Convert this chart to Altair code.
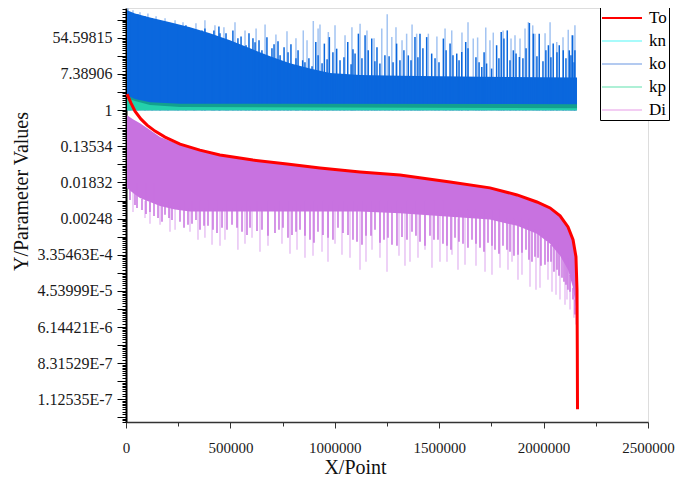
import math
import numpy as np
import pandas as pd
import altair as alt

FONT = "Liberation Serif"

# ---------------- data (x in points, y given as natural-log of the value) ----------------
series_names = ["To", "kn", "ko", "kp", "Di"]
legend_colors = ["#ff0000", "#a8fbfb", "#b3caf0", "#aef0d6", "#f3cdf3"]

y_tick_labels = ["54.59815", "7.38906", "1", "0.13534", "0.01832", "0.00248",
                 "3.35463E-4", "4.53999E-5", "6.14421E-6", "8.31529E-7", "1.12535E-7"]
x_tick_values = [0, 250000, 500000, 750000, 1000000, 1250000, 1500000,
                 1750000, 2000000, 2250000, 2500000]

# To (red curve)
to_x = [5000, 24000, 43000, 72000, 101000, 139000, 187000, 259000, 354000, 450000,
        608000, 771000, 929000, 1121000, 1312000, 1552000, 1743000, 1873000, 1968000,
        2031000, 2079000, 2117000, 2141000, 2155000, 2160000, 2161400, 2162400]
to_ln = [0.88, 0.39, -0.06, -0.50, -0.83, -1.16, -1.49, -1.88, -2.21, -2.48,
         -2.76, -2.98, -3.20, -3.42, -3.59, -3.97, -4.30, -4.69, -5.08,
         -5.41, -5.85, -6.46, -7.17, -8.11, -9.93, -13.24, -16.55]

# Di dense band
di_x = [5000, 33500, 67000, 115000, 163000, 235000, 306500, 369000, 450000, 608000,
        771000, 929000, 1121000, 1312000, 1552000, 1743000, 1873000, 1968000, 2031000,
        2079000, 2117000, 2141000, 2155000, 2160000]
di_top_ln = [-0.28, -0.50, -0.72, -1.10, -1.49, -1.82, -2.10, -2.26, -2.48, -2.76,
             -2.98, -3.20, -3.42, -3.59, -3.97, -4.30, -4.69, -5.08, -5.41,
             -5.85, -6.46, -7.17, -8.11, -9.93]
di_low_ln = [-4.30, -4.58, -4.86, -5.08, -5.30, -5.50, -5.60, -5.60, -5.60, -5.60,
             -5.60, -5.60, -5.60, -5.70, -5.90, -6.05, -6.40, -6.84, -7.39,
             -8.06, -8.83, -9.82, -10.92, -12.69]

# Di saturated spikes (bottom / top of each spike)
di_sp_x = [19200, 43100, 76600, 114900, 153300, 186800, 220300, 258600, 296900, 335200,
           373600, 416700, 459800, 507700, 555600, 593900, 651300, 713600, 751900, 795000,
           833300, 881200, 919500, 967500, 1015300, 1063200, 1106300, 1149400, 1192500, 1235600,
           1273900, 1321800, 1369700, 1408000, 1455900, 1494200, 1537300, 1575700, 1614000, 1657100,
           1695400, 1733700, 1767200, 1805500, 1839100, 1877400, 1915700, 1944400, 1973200, 2006700,
           2035400, 2064200, 2088100, 2107300, 2126500, 2140800, 2150400,
           52700, 95800, 134100, 172400, 205900, 277800, 316100, 354400, 392700, 435800,
           483700, 531600, 579500, 627400, 680000, 732700, 775800, 814200, 857200, 900300,
           943400, 991300, 1039200, 1087100, 1130200, 1173300, 1216400, 1254700, 1297800, 1345700,
           1388800, 1431900, 1475000, 1518100, 1556400, 1594700, 1637800, 1676200, 1714500, 1752800,
           1786300, 1824600, 1858100, 1896500, 1930000, 1958700, 1987400, 2021000, 2049700, 2073700,
           2097600, 2116700]
di_sp_low = [-4.97, -5.24, -5.52, -5.63, -5.96, -5.79, -6.07, -6.18, -6.34, -6.07,
             -6.40, -6.62, -6.51, -6.34, -6.73, -6.51, -6.62, -6.79, -6.51, -6.90,
             -6.62, -7.17, -6.73, -7.06, -6.51, -6.90, -7.28, -6.95, -6.62, -7.17,
             -7.45, -7.01, -6.73, -7.28, -6.95, -7.17, -7.50, -7.06, -7.39, -7.17,
             -7.61, -7.34, -7.72, -7.50, -7.83, -8.00, -7.72, -8.39, -8.17, -8.55,
             -8.39, -8.83, -9.27, -9.66, -10.04, -10.48, -11.31,
             -5.41, -5.74, -5.85, -6.18, -5.96, -6.51, -6.29, -6.62, -6.40, -6.79,
             -6.62, -6.51, -6.90, -6.68, -6.95, -6.62, -7.06, -6.73, -6.95, -7.34,
             -6.90, -7.17, -6.79, -7.17, -7.45, -6.95, -7.34, -7.06, -7.50, -7.17,
             -6.95, -7.50, -7.17, -7.39, -7.72, -7.28, -7.61, -7.39, -7.83, -7.50,
             -7.94, -7.72, -8.06, -7.89, -8.28, -8.11, -8.61, -8.39, -8.94, -9.16,
             -9.49, -9.93]
di_sp_top = [-4.41, -4.63, -4.91, -5.08, -5.19, -5.24, -5.30, -5.35, -5.41, -5.41,
             -5.41, -5.41, -5.41, -5.41, -5.35, -5.35, -5.35, -5.30, -5.30, -5.30,
             -5.24, -5.24, -5.24, -5.24, -5.24, -5.24, -5.24, -5.24, -5.24, -5.30,
             -5.30, -5.35, -5.41, -5.46, -5.52, -5.57, -5.63, -5.68, -5.74, -5.79,
             -5.90, -5.96, -6.01, -6.12, -6.18, -6.34, -6.51, -6.68, -6.84, -7.12,
             -7.45, -7.72, -8.06, -8.39, -9.10, -9.82, -10.48,
             -4.0, -4.0, -4.0, -5.0, -5.0, -5.0, -5.0, -5.0, -5.0, -5.0,
             -5.0, -5.0, -5.0, -5.0, -5.0, -5.0, -5.0, -5.0, -5.0, -5.0,
             -5.0, -5.0, -5.0, -5.0, -5.0, -5.0, -5.0, -5.0, -5.0, -5.0,
             -5.0, -5.0, -5.0, -5.0, -5.5, -5.5, -5.5, -5.5, -5.5, -5.5,
             -5.5, -6.0, -6.0, -6.0, -6.0, -6.6, -6.6, -7.3, -7.3, -7.3,
             -8.2, -8.2]

# Di light spikes
di_lt_x = [33500, 91000, 163000, 235000, 306500, 378000, 412000, 474000, 536000, 603500,
           680000, 747000, 819000, 895600, 938700, 1001000, 1072800, 1120700, 1178200, 1250000,
           1307400, 1360100, 1432000, 1503800, 1561300, 1623600, 1719400, 1791200, 1848700, 1896500,
           1934900, 1982700, 2021000, 2059400, 2078500, 2102500, 2126500, 2145600, 2155200,
           114900, 210700, 344800, 450200, 569900, 641700, 785400, 857200, 967400, 1034400,
           1149400, 1216400, 1336100, 1398400, 1465400, 1537300, 1590000, 1676200, 1752800, 1829400,
           1877300, 1963500, 2040200, 2112000]
di_lt_low = [-5.63, -5.96, -6.34, -6.62, -6.73, -7.06, -7.45, -7.17, -7.72, -7.06,
             -7.50, -7.39, -7.72, -8.06, -7.83, -7.39, -8.17, -8.83, -7.72, -8.94,
             -8.06, -8.39, -7.72, -8.39, -8.00, -8.55, -8.94, -8.72, -8.39, -9.10,
             -9.77, -9.82, -9.38, -10.21, -10.48, -10.76, -11.03, -11.48, -11.86,
             -6.29, -6.73, -7.17, -7.50, -7.39, -7.83, -7.94, -8.17, -8.39, -8.00,
             -8.39, -8.17, -8.61, -8.17, -8.72, -8.39, -8.83, -8.61, -9.10, -8.83,
             -9.38, -9.93, -10.04, -10.48]
di_lt_top = [-4.58, -5.02, -5.24, -5.35, -5.41, -5.41, -5.41, -5.41, -5.41, -5.35,
             -5.35, -5.30, -5.30, -5.24, -5.24, -5.24, -5.24, -5.24, -5.24, -5.30,
             -5.35, -5.41, -5.52, -5.57, -5.63, -5.74, -5.90, -6.01, -6.18, -6.40,
             -6.57, -6.95, -7.23, -7.56, -8.06, -8.39, -9.10, -10.21, -10.92,
             -4.8, -4.8, -5.5, -5.5, -5.5, -5.5, -5.5, -5.5, -5.5, -5.5,
             -5.5, -5.5, -5.5, -5.5, -5.5, -5.5, -6.0, -6.0, -6.0, -6.0,
             -6.0, -6.5, -7.0, -8.0]

# ko dense band (from 1 upward)
ko_x = [5000, 43000, 115000, 211000, 307000, 402000, 498000, 594000, 690000, 785000,
        881000, 977000, 1121000, 1312000, 1700000, 2160000]
ko_top_ln = [5.52, 5.35, 5.13, 4.86, 4.58, 4.25, 3.86, 3.42, 2.98, 2.59,
             2.30, 2.05, 1.95, 1.90, 1.85, 1.80]

# ko saturated spikes
ko_sat_x = [19000, 57000, 91000, 125000, 163000, 201000, 249000, 287000, 326000, 364000,
            412000, 450000, 489000, 536000, 575000, 618000, 651000, 699000, 738000, 776000,
            814000, 846000, 909000, 950000, 974000, 1009000, 1062000, 1097000, 1113000, 1145000,
            1160000, 1177000, 1216000, 1240000, 1296000, 1312000, 1352000, 1384000, 1408000, 1440000,
            1464000, 1520000, 1533000, 1552000, 1584000, 1608000, 1627000, 1704000, 1727000, 1751000,
            1775000, 1797000, 1810000, 1826000, 1855000, 1884000, 1932000, 1951000, 1979000, 2023000,
            2046000, 2075000, 2094000, 2123000, 2139000, 2150000,
            857000, 876000, 891000, 920000, 939000, 963000, 991000, 1025000, 1044000, 1078000,
            1087000, 1130000, 1192000, 1202000, 1260000, 1279000, 1331000, 1365000, 1398000, 1422000,
            1480000, 1499000, 1566000, 1595000, 1638000, 1676000, 1691000, 1715000, 1786000, 1839000,
            1868000, 1901000, 1916000, 1968000, 1997000, 2011000, 2035000, 2064000, 2107000, 2131000,
            2146000,
            378000, 421000, 445000, 479000, 512000, 551000, 589000, 608000, 637000, 675000,
            709000, 728000, 757000, 790000, 824000]
ko_sat_ln = [5.41, 5.30, 5.19, 5.08, 4.97, 4.86, 4.63, 4.69, 4.41, 4.41,
             4.14, 4.25, 3.86, 3.97, 3.59, 3.75, 3.31, 3.42, 3.03, 3.20,
             2.87, 2.76, 3.77, 3.68, 4.04, 3.40, 3.77, 3.13, 4.23, 4.14,
             3.31, 3.96, 2.58, 3.03, 3.68, 2.76, 3.03, 4.04, 4.23, 4.04,
             3.13, 3.96, 3.31, 3.68, 3.13, 3.22, 3.77, 2.39, 2.58, 2.30,
             3.59, 4.32, 3.96, 4.41, 3.31, 2.94, 4.82, 4.23, 4.23, 3.59,
             3.68, 3.59, 3.31, 3.31, 4.14, 3.31,
             2.65, 2.87, 2.43, 3.03, 2.59, 2.81, 3.20, 2.76, 2.92, 2.54,
             3.37, 2.87, 2.70, 3.48, 2.98, 2.65, 3.31, 2.76, 2.92, 3.42,
             2.87, 2.65, 3.03, 2.76, 3.42, 2.92, 2.65, 3.20, 2.87, 2.76,
             3.14, 2.87, 3.42, 2.98, 2.70, 3.31, 2.92, 3.20, 2.87, 3.03,
             2.65,
             4.52, 4.41, 4.63, 4.25, 4.41, 4.08, 4.25, 3.97, 3.86, 4.03,
             3.64, 3.81, 3.48, 3.64, 3.31]

# ko light spikes
ko_light_x = [10000, 33500, 67000, 105000, 144000, 187000, 235000, 273000, 335000, 378000,
              426000, 469000, 522000, 570000, 623000, 666000, 718000, 771000, 814000, 849000,
              897000, 929000, 969000, 1121000, 1225000, 1251000, 1273000, 1344000, 1392000, 1448000,
              1560000, 1663000, 1684000, 1723000, 1759000, 1844000, 1887000, 1927000, 1948000, 1959000,
              2063000, 2118000, 2135000,
              867000, 920000, 1001000, 1049000, 1082000, 1154000, 1188000, 1293000, 1322000, 1370000,
              1489000, 1528000, 1609000, 1638000, 1743000, 1806000, 1863000, 1911000, 2007000, 2031000,
              2093000, 2150000]
ko_light_ln = [5.63, 5.52, 5.41, 5.35, 5.19, 5.08, 4.97, 4.86, 4.80, 4.97,
               4.69, 4.58, 4.86, 4.41, 4.52, 4.74, 4.19, 4.36, 3.97, 4.41,
               4.93, 4.74, 4.32, 4.78, 4.51, 5.30, 4.04, 4.23, 4.23, 4.23,
               4.41, 3.96, 4.02, 4.57, 4.29, 3.96, 3.96, 4.87, 4.69, 4.23,
               3.77, 4.45, 4.14,
               3.86, 4.52, 4.69, 4.14, 4.58, 4.41, 3.97, 4.58, 3.86, 4.74,
               4.08, 4.52, 4.30, 4.86, 3.86, 4.41, 4.14, 4.52, 4.25, 4.86,
               4.03, 4.69]

# kp / kn thin bands just above 1
teal_x = [5000, 43000, 115000, 259000, 2160000]
kp_top_ln = [0.83, 0.61, 0.44, 0.36, 0.33]
kn_top_ln = [0.66, 0.50, 0.28, 0.17, 0.11]


def frame(x, ln, ln2=None):
    d = pd.DataFrame({"x": x, "y": np.exp(np.array(ln, dtype=float))})
    d["y2"] = 1.0 if ln2 is None else np.exp(np.array(ln2, dtype=float))
    return d


to_df = frame(to_x, to_ln)
to_df["series"] = "To"

# ---------------- axes ----------------
E = math.e
y_lo, y_hi = E ** -17.25, E ** 5.65
y_ticks = []
for n in range(-18, 7):
    base = E ** n
    y_ticks.append(base)
    for k in range(1, 9):
        y_ticks.append(base * (1 + (E - 1) * k / 9))
y_ticks = [v for v in y_ticks if y_lo <= v <= y_hi]

lab_arr = "[" + ",".join("'%s'" % s for s in y_tick_labels) + "]"
y_label_expr = ("abs(log(datum.value)/2 - round(log(datum.value)/2)) < 0.001 ? "
                + lab_arr + "[round((4 - log(datum.value))/2)] : ''")

xaxis = alt.Axis(
    values=x_tick_values,
    labelExpr="datum.value % 500000 === 0 ? format(datum.value, 'd') : ''",
    grid=False, labelFlush=False, labelOverlap=False,
    labelFont=FONT, labelFontSize=15, labelColor="#1a1a1a", labelPadding=12,
    tickColor="#333333", tickWidth=1,
    tickSize={"condition": {"test": "datum.value % 500000 === 0", "value": 6}, "value": 4},
    domainColor="#333333", domainWidth=1.5,
    titleFont=FONT, titleFontSize=20, titleFontWeight="normal", titleColor="#111111",
    titleX=229, titleY=45, titleBaseline="middle",
)
yaxis = alt.Axis(
    values=y_ticks,
    labelExpr=y_label_expr,
    grid=False, labelFlush=False, labelOverlap=False,
    labelFont=FONT, labelFontSize=16, labelColor="#1a1a1a", labelPadding=5,
    tickColor="black", tickWidth=1,
    tickSize={"condition": {"test": "abs(log(datum.value) - round(log(datum.value))) < 0.001", "value": 9}, "value": 4},
    domainColor="black", domainWidth=2,
    titleFont=FONT, titleFontSize=20, titleFontWeight="normal", titleColor="#111111",
    titleX=-105, titleY=183, titleBaseline="middle",
)

xs = alt.Scale(domain=[0, 2500000], nice=False, zero=False)
ys = alt.Scale(type="log", base=E, domain=[y_lo, y_hi], nice=False)

X = alt.X("x:Q", scale=xs, axis=xaxis, title="X/Point")
Y = alt.Y("y:Q", scale=ys, axis=yaxis, title="Y/Parameter Values")
Y2 = alt.Y2("y2")

legend = alt.Legend(
    title=None, orient="none", legendX=474, legendY=-3,
    strokeColor="black", fillColor="white", padding=2, cornerRadius=0,
    symbolType="M-2,0H2", symbolSize=400, symbolStrokeWidth=2,
    symbolOffset=9, labelOffset=16, rowPadding=4,
    labelFont=FONT, labelFontSize=17, labelColor="black",
)

layers = [
    alt.Chart(frame(ko_light_x, ko_light_ln)).mark_rule(color="#a3c4f2", strokeWidth=1.5).encode(x=X, y=Y, y2=Y2),
    alt.Chart(frame(ko_x, ko_top_ln)).mark_area(color="#0a67dd").encode(x=X, y=Y, y2=Y2),
    alt.Chart(frame(ko_sat_x, ko_sat_ln)).mark_rule(color="#0a67dd", strokeWidth=1.5).encode(x=X, y=Y, y2=Y2),
    alt.Chart(frame(teal_x, kp_top_ln)).mark_area(color="#13a08e").encode(x=X, y=Y, y2=Y2),
    alt.Chart(frame(teal_x, kn_top_ln)).mark_area(color="#24d0ac").encode(x=X, y=Y, y2=Y2),
    alt.Chart(frame(di_lt_x, di_lt_low, di_lt_top)).mark_rule(color="#e8c3f4", strokeWidth=1.5).encode(x=X, y=Y, y2=Y2),
    alt.Chart(frame(di_x, di_top_ln, di_low_ln)).mark_area(color="#c872e0").encode(x=X, y=Y, y2=Y2),
    alt.Chart(frame(di_sp_x, di_sp_low, di_sp_top)).mark_rule(color="#c872e0", strokeWidth=1.5).encode(x=X, y=Y, y2=Y2),
    alt.Chart(to_df).mark_line(strokeWidth=3).encode(
        x=X, y=Y,
        color=alt.Color("series:N", scale=alt.Scale(domain=series_names, range=legend_colors), legend=legend),
    ),
]

chart = (
    alt.layer(*layers)
    .properties(width=522, height=414, autosize="none",
                padding={"left": 118, "top": 0, "right": 29, "bottom": 54})
    .configure_view(stroke="transparent")
    .configure(background="white")
)

chart.save("out.html", embed_options={"renderer": "svg", "actions": False})
